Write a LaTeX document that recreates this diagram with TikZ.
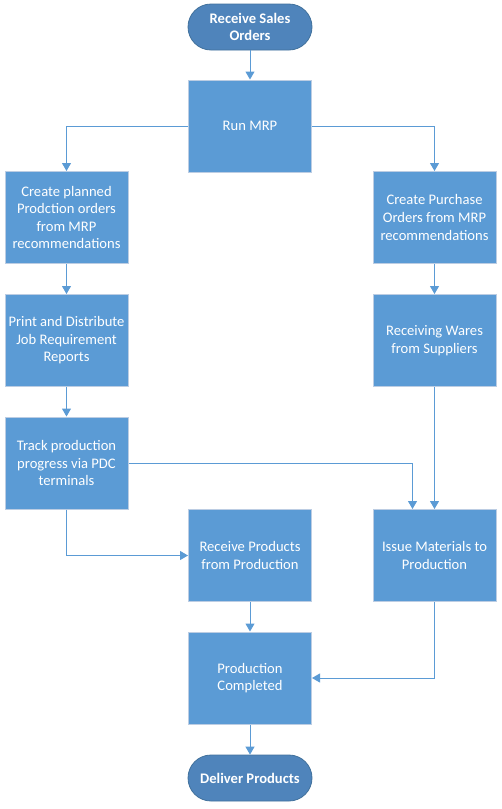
\documentclass[tikz,border=0pt]{standalone}
\usepackage{fontspec}
\setmainfont{Carlito}
\usetikzlibrary{arrows.meta}
\definecolor{boxfill}{HTML}{5B9BD5}
\definecolor{boxedge}{HTML}{BCCDE3}
\definecolor{pillfill}{HTML}{4F84BB}
\definecolor{pilledge}{HTML}{41719C}
\definecolor{linec}{HTML}{5B9BD5}
\tikzset{
  procbox/.style={draw=boxedge, line width=1pt, fill=boxfill, minimum width=123pt, minimum height=92pt,
    inner sep=0pt, text=white, align=center, font=\fontsize{14.6}{17.6}\selectfont},
  pill/.style={draw=pilledge, line width=0.8pt, fill=pillfill, rounded corners=23pt, minimum width=124pt,
    minimum height=46pt, inner sep=0pt, text=white, align=center, font=\bfseries\fontsize{14.6}{17.6}\selectfont},
  conn/.style={draw=linec, line width=1pt, -{Triangle[width=9pt,length=8pt]}}
}
\begin{document}
\begin{tikzpicture}[x=1pt,y=-1pt]
\useasboundingbox (0,0) rectangle (501,809);
\fill[white] (0,0) rectangle (501,809);
\node[pill] (rso) at (250,27) {Receive Sales\\Orders};
\node[procbox] (mrp) at (250,126) {Run MRP};
\node[procbox] (cpo) at (66.5,217.5) {Create planned\\Prodction orders\\from MRP\\recommendations};
\node[procbox] (pdr) at (66.5,340.5) {Print and Distribute\\Job Requirement\\Reports};
\node[procbox] (tpp) at (66.5,463) {Track production\\progress via PDC\\terminals};
\node[procbox] (cpu) at (434.5,217.5) {Create Purchase\\Orders from MRP\\recommendations};
\node[procbox] (rws) at (434.5,340.5) {Receiving Wares\\from Suppliers};
\node[procbox] (imp) at (434.5,555.5) {Issue Materials to\\Production};
\node[procbox] (rpp) at (250,555.5) {Receive Products\\from Production};
\node[procbox] (pco) at (250,678) {Production\\Completed};
\node[pill] (dpr) at (250,778) {Deliver Products};
\draw[conn] (rso) -- (mrp);
\draw[conn] (mrp.west) -| (cpo.north);
\draw[conn] (mrp.east) -| (cpu.north);
\draw[conn] (cpo) -- (pdr);
\draw[conn] (pdr) -- (tpp);
\draw[conn] (cpu) -- (rws);
\draw[conn] (rws) -- (imp);
\draw[conn] (tpp.east) -| ([xshift=-22pt]imp.north);
\draw[conn] (tpp.south) |- (rpp.west);
\draw[conn] (rpp) -- (pco);
\draw[conn] (imp.south) |- (pco.east);
\draw[conn] (pco) -- (dpr);
\end{tikzpicture}
\end{document}
